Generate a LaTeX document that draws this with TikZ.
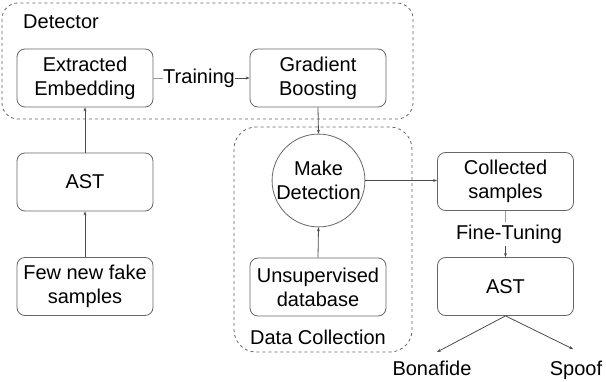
\documentclass[tikz,border=0pt]{standalone}
\usepackage{fontspec}
\setmainfont{Liberation Sans}
\usetikzlibrary{arrows.meta,calc}
\begin{document}
\begin{tikzpicture}[x=1pt,y=-1pt,
  every node/.style={font=\fontsize{20}{24}\selectfont, text=black},
  box/.style={draw=black!60, line width=0.8pt, rounded corners=8pt, minimum width=136pt, minimum height=58pt, align=center, inner sep=0pt},
  group/.style={draw=black!60, dashed, line width=0.8pt, rounded corners=16pt},
  conn/.style={draw=black!70, line width=0.8pt},
  arr/.style={conn, -{Stealth[length=4pt,width=3pt]}},
  lab/.style={inner sep=0pt, align=center}
]
\useasboundingbox (0,0) rectangle (606,382);
% groups
\draw[group] (2,3) rectangle (413,119);
\draw[group, rounded corners=22pt] (234,127) rectangle (412,352);
\node[lab] (det) at (61,22) {Detector};
\node[lab] (dc) at (318,337) {Data Collection};
% nodes
\node[box] (emb) at (85,78) {Extracted\\Embedding};
\node[box] (gb) at (318,78) {Gradient\\Boosting};
\node[box] (ast1) at (85,182) {AST};
\node[box] (few) at (85,286.5) {Few new fake\\samples};
\node[draw=black!60, line width=0.8pt, circle, minimum size=92pt, inner sep=0pt, align=center] (md) at (318.5,180.5) {Make\\Detection};
\node[box] (uns) at (318,287) {Unsupervised\\database};
\node[box] (col) at (505.5,181.5) {Collected\\samples};
\node[box] (ast2) at (505.5,286.5) {AST};
\node[lab] (train) at (199,78) {Training};
\node[lab, inner sep=2pt] (ft) at (509,234) {Fine-Tuning};
\node[lab, anchor=base] (bona) at (432,376) {Bonafide};
\node[lab, anchor=base] (spoof) at (576,376) {Spoof};
\coordinate (bonaend) at (437,352);
\coordinate (spoofend) at (573,349);
% connectors
\draw[conn, draw=black!40] (emb.east) -- (train.west);
\draw[arr] (train.east) -- (gb.west);
\draw[arr] (ast1.north) -- (emb.south);
\draw[arr] (few.north) -- (ast1.south);
\draw[arr] (gb.south) -- (md.north);
\draw[arr] (uns.north) -- (md.south);
\draw[arr] (md.east) -- (md.east -| col.west);
\draw[conn, draw=black!40] (col.south) -- (col.south |- ft.north);
\draw[arr] (ast2.north |- ft.south) -- (ast2.north);
\draw[arr] (ast2.south) -- (bonaend);
\draw[arr] (ast2.south) -- (spoofend);
\end{tikzpicture}
\end{document}
